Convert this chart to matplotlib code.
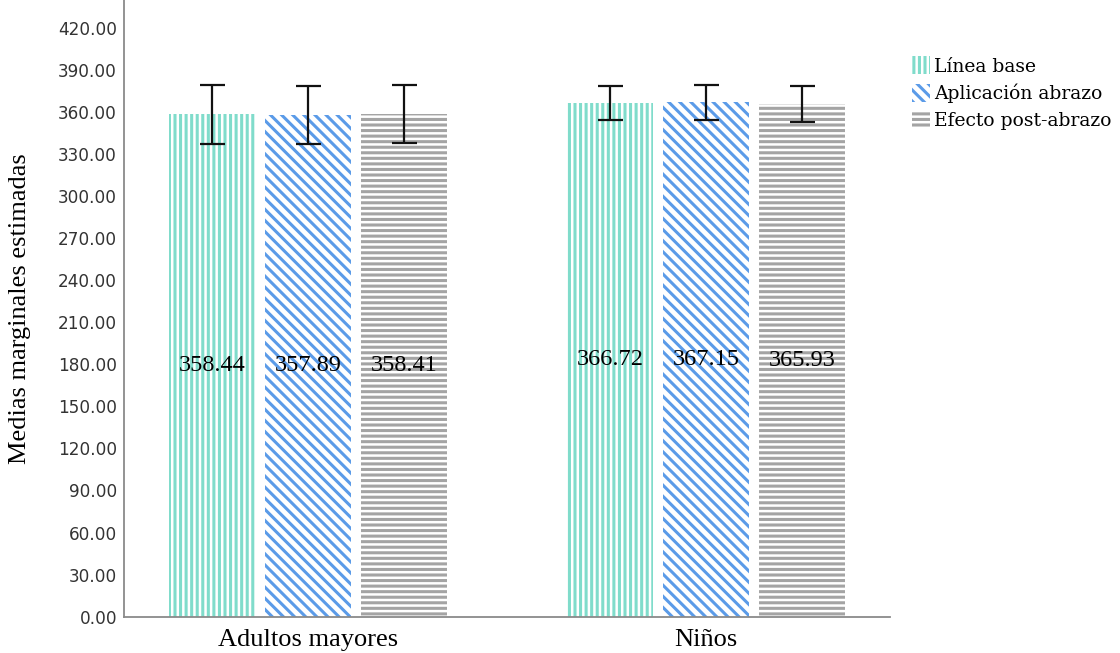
import matplotlib.pyplot as plt
import numpy as np

# estimated marginal means per group and phase
groups = ['Adultos mayores', 'Niños']
phases = ['Línea base', 'Aplicación abrazo', 'Efecto post-abrazo']
means = {
    'Línea base': [358.44, 366.72],
    'Aplicación abrazo': [357.89, 367.15],
    'Efecto post-abrazo': [358.41, 365.93],
}
errors = {
    'Línea base': [21.0, 12.0],
    'Aplicación abrazo': [20.5, 12.5],
    'Efecto post-abrazo': [20.8, 13.0],
}
yticks = np.arange(0, 421, 30)

colors = ['#80dccb', '#5b9be8', '#a4a4a4']
hatches = ['|||', '\\\\\\', '---']
hatch_lw = [2.2, 2.2, 2.2]

fig = plt.figure(figsize=(11.2, 6.53), dpi=100)
ax = fig.add_axes([0.1107, 0.0557, 0.6836, 0.9443])

x = np.arange(len(groups))
pitch = 0.2415
width = 0.216

for i, ph in enumerate(phases):
    xs = x + (i - 1) * pitch
    with plt.rc_context({'hatch.linewidth': hatch_lw[i]}):
        bars = ax.bar(xs, means[ph], width, facecolor='white', edgecolor=colors[i],
                      linewidth=0, hatch=hatches[i], label=ph)
    for b in bars:
        if hasattr(b, 'set_hatch_linewidth'):
            b.set_hatch_linewidth(hatch_lw[i])
    ax.errorbar(xs, means[ph], yerr=errors[ph], fmt='none', ecolor='#111111',
                elinewidth=1.6, capsize=9, capthick=1.6)
    for xi, v in zip(xs, means[ph]):
        ax.text(xi, v / 2, f'{v:.2f}', ha='center', va='center',
                family='Liberation Serif', fontsize=17.5, color='black')

ax.set_xlim(-0.463, 1.4616)
ax.set_ylim(0, 440)
ax.set_yticks(yticks)
ax.set_yticklabels([f'{t:.2f}' for t in yticks])
ax.set_xticks(x)
ax.set_xticklabels(groups, family='Liberation Serif', fontsize=19)

ax.tick_params(axis='y', length=0, pad=5, labelsize=12.2, labelcolor='#333333')
ax.tick_params(axis='x', length=0, pad=9)
for s in ['top', 'right']:
    ax.spines[s].set_visible(False)
for s in ['left', 'bottom']:
    ax.spines[s].set_color('#8a8a8a')
    ax.spines[s].set_linewidth(1.3)

ax.set_ylabel('Medias marginales estimadas', family='Liberation Serif',
              fontsize=19)
ax.yaxis.set_label_coords(-0.122, 0.5)

leg = fig.legend(loc='upper left', bbox_to_anchor=(0.808, 0.925), frameon=False,
                 prop={'family': 'DejaVu Serif', 'size': 13.5},
                 handlelength=0.95, handleheight=1.1, handletextpad=0.2,
                 labelspacing=0.42, borderaxespad=0)
for h, lw in zip(leg.legend_handles, hatch_lw):
    if hasattr(h, 'set_hatch_linewidth'):
        h.set_hatch_linewidth(lw)

fig.savefig('out.png', dpi=100)
